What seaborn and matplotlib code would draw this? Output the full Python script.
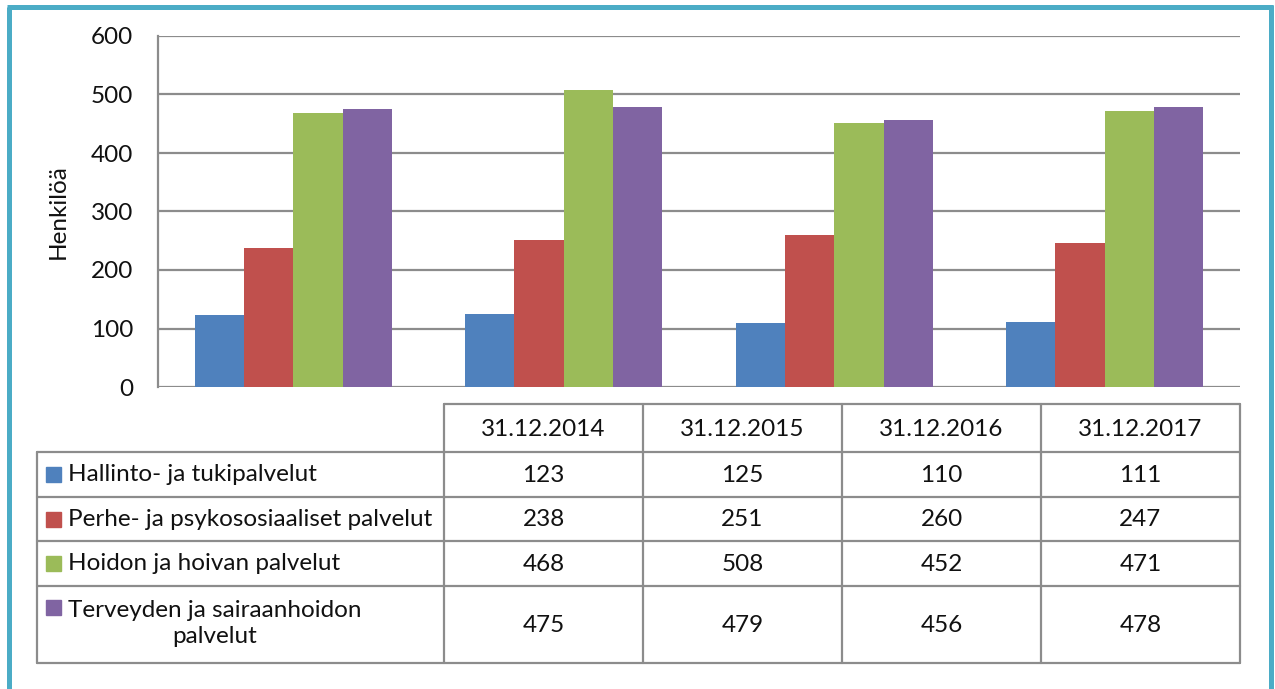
import matplotlib
matplotlib.use("Agg")
import matplotlib.pyplot as plt
import pandas as pd
import seaborn as sns

dates = ["31.12.2014", "31.12.2015", "31.12.2016", "31.12.2017"]
series = ["Hallinto- ja tukipalvelut", "Perhe- ja psykososiaaliset palvelut",
          "Hoidon ja hoivan palvelut", "Terveyden ja sairaanhoidon\npalvelut"]
hallinto = [123, 125, 110, 111]
perhe = [238, 251, 260, 247]
hoito = [468, 508, 452, 471]
terveys = [475, 479, 456, 478]
colors = ["#4f81bd", "#c0504d", "#9bbb59", "#8064a2"]
yticks = [0, 100, 200, 300, 400, 500, 600]

values = [hallinto, perhe, hoito, terveys]
rows = []
for s, vals in zip(series, values):
    for d, v in zip(dates, vals):
        rows.append({"pvm": d, "sarja": s, "arvo": v})
df = pd.DataFrame(rows)

sns.set_theme(style="white")
plt.rcParams["font.family"] = ["Lato", "DejaVu Sans"]
FS = 17.5
TC = "#111111"

W, H = 1275, 689
fig = plt.figure(figsize=(W / 100, H / 100), dpi=100)
fig.patch.set_facecolor("white")

# overlay for frame and data table (pixel coordinates)
ov = fig.add_axes([0, 0, 1, 1])
ov.set_xlim(0, W)
ov.set_ylim(H, 0)
ov.axis("off")

# chart area
L, R, T, B = 158, 1240, 36, 387
ax = fig.add_axes([L / W, 1 - B / H, (R - L) / W, (B - T) / H])
sns.barplot(data=df, x="pvm", y="arvo", hue="sarja", palette=colors,
            width=0.73, gap=0, linewidth=0, saturation=1, ax=ax, legend=False,
            zorder=3)
ax.set_ylim(0, 600)
ax.set_xlim(-0.5, 3.5)
ax.set_yticks(yticks)
ax.set_yticklabels([str(t) for t in yticks], fontsize=FS, color=TC)
ax.tick_params(axis="y", length=0, pad=18)
ax.set_xticks([])
ax.set_xlabel("")
ax.set_ylabel("Henkilöä", fontsize=FS, color=TC, labelpad=16)
for y in yticks:
    ax.axhline(y, color="#8c8c8c", lw=1.6, zorder=1)
for side in ["top", "right", "bottom"]:
    ax.spines[side].set_visible(False)
ax.spines["left"].set_color("#8c8c8c")
ax.spines["left"].set_linewidth(1.6)
ax.set_facecolor("none")

# data table
gc = "#8c8c8c"
x0, x1 = 37, 444
colw = (R - x1) / len(dates)
ytop = 404
row_y = [452, 497, 541, 586, 663]
ov.plot([x1, R], [ytop, ytop], color=gc, lw=1.6)
for yy in row_y:
    ov.plot([x0, R], [yy, yy], color=gc, lw=1.6)
ov.plot([x0, x0], [row_y[0], row_y[-1]], color=gc, lw=1.6)
for i in range(len(dates) + 1):
    xx = x1 + i * colw
    ov.plot([xx, xx], [ytop, row_y[-1]], color=gc, lw=1.6)
for i, d in enumerate(dates):
    ov.text(x1 + (i + 0.5) * colw, (ytop + row_y[0]) / 2 + 1, d, ha="center",
            va="center", fontsize=FS, color=TC)
for r, (s, vals, c) in enumerate(zip(series, values, colors)):
    ya, yb = row_y[r], row_y[r + 1]
    ymid = (ya + yb) / 2
    if "\n" in s:
        ov.add_patch(plt.Rectangle((46, ya + 14), 15, 15, color=c))
        ov.text(68, ymid - 1, s, ha="left", va="center", multialignment="center",
                fontsize=FS, color=TC, linespacing=1.3)
    else:
        ov.add_patch(plt.Rectangle((46, ymid - 7.5), 15, 15, color=c))
        ov.text(68, ymid, s, ha="left", va="center", fontsize=FS, color=TC)
    for i, v in enumerate(vals):
        ov.text(x1 + (i + 0.5) * colw, ymid + 1, str(v), ha="center",
                va="center", fontsize=FS, color=TC)

# teal frame
fc = "#4bacc6"
ov.plot([8.5, 8.5], [7, H + 5], color=fc, lw=3.6, solid_capstyle="butt")
ov.plot([6.5, 1273], [7, 7], color=fc, lw=3.6, solid_capstyle="butt")
ov.plot([1270.5, 1270.5], [5, H + 5], color=fc, lw=3.6, solid_capstyle="butt")

fig.savefig("out.png", dpi=100, facecolor="white")
